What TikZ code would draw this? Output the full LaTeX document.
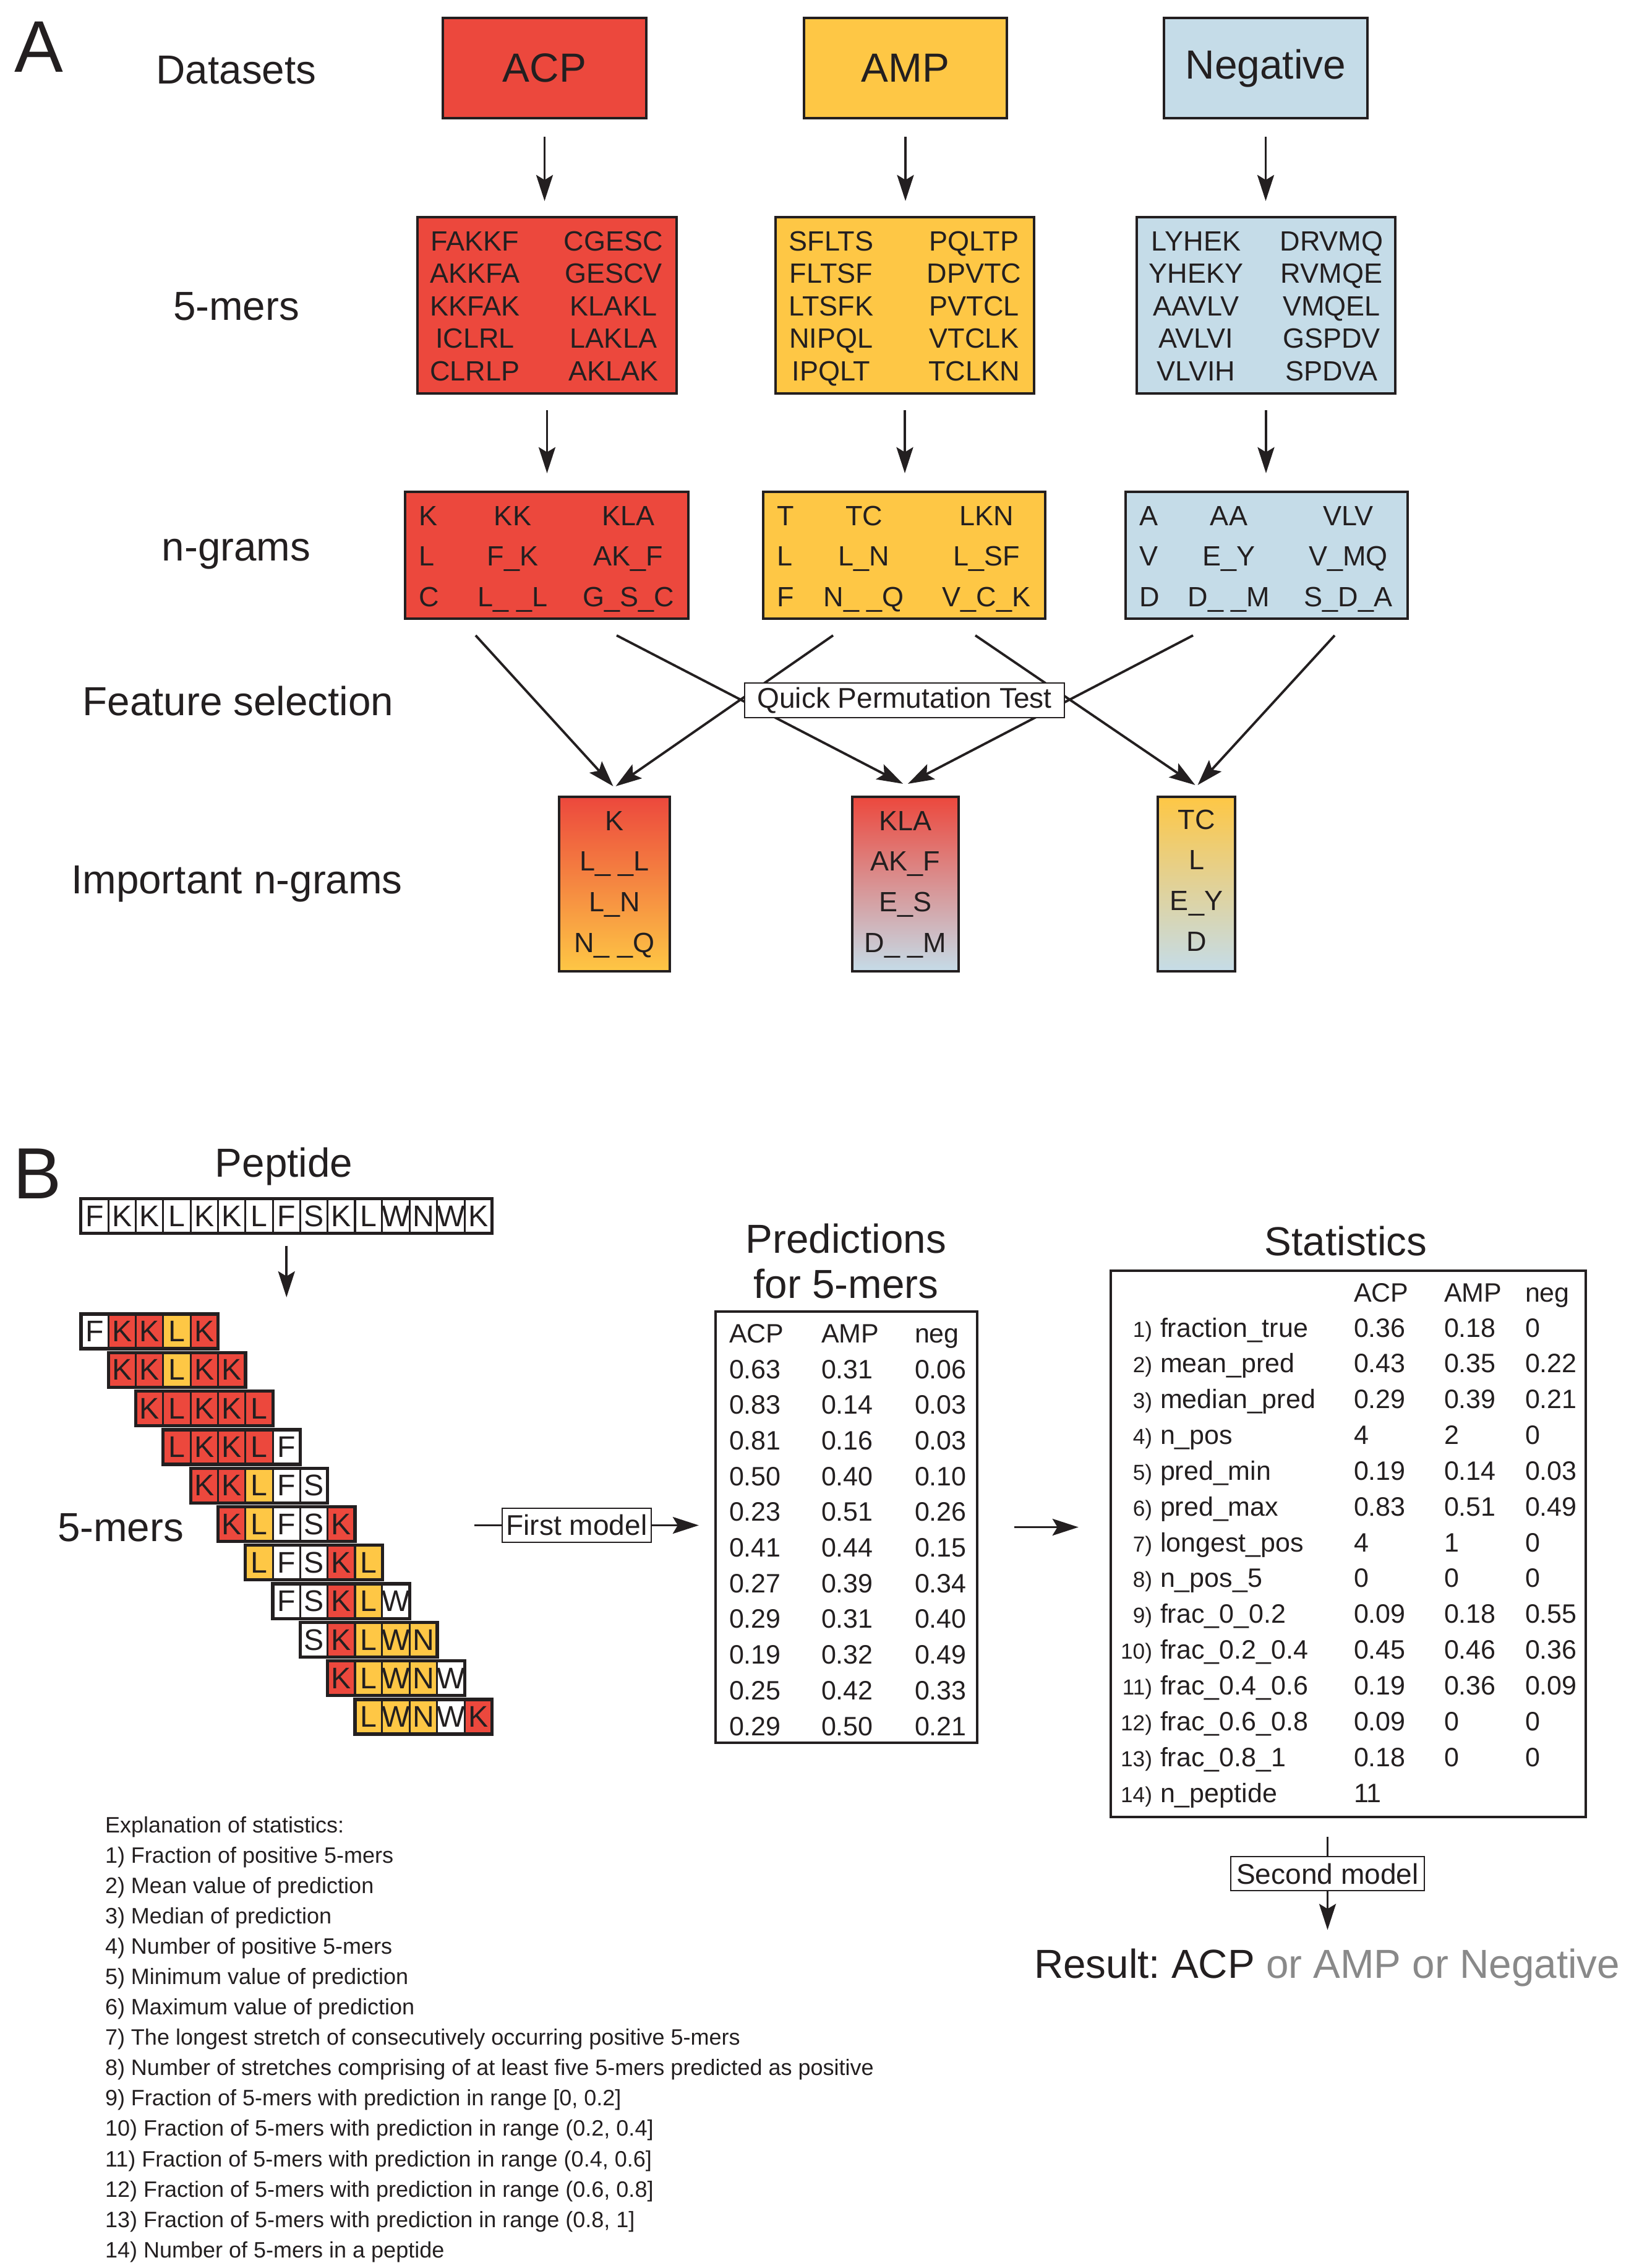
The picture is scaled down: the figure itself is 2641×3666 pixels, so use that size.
\documentclass[tikz,border=0pt]{standalone}
\usepackage{fontspec}
\setmainfont{Liberation Sans}
\usetikzlibrary{arrows.meta,calc}
\definecolor{acp}{RGB}{236,72,61}
\definecolor{amp}{RGB}{254,199,69}
\definecolor{neg}{RGB}{197,220,232}
\definecolor{txt}{RGB}{35,31,32}
\definecolor{gry}{RGB}{137,137,137}
\colorlet{cw}{white}
\colorlet{cr}{acp}
\colorlet{cy}{amp}
\newcommand{\fz}[1]{\fontsize{#1pt}{#1pt}\selectfont}
\frenchspacing
\begin{document}
\begin{tikzpicture}[x=0.01cm,y=-0.01cm,
  every node/.style={text=txt, inner sep=0pt, outer sep=0pt},
  lbl/.style={anchor=base, font=\fz{18.64}},
  dbox/.style={draw=txt, line width=1.2pt, minimum height=1.62cm, font=\fz{18.7}},
  fbox/.style={draw=txt, line width=1.2pt},
  kt/.style={anchor=base, font=\fz{12.8}},
  ktw/.style={anchor=base west, font=\fz{12.8}},
  mbox/.style={draw=txt, line width=0.6pt, fill=white, font=\fz{13.1}},
  arr/.style={draw=txt, line width=1.1pt, -{Stealth[length=0.42cm,width=0.27cm,inset=0.08cm]}},
  ln/.style={draw=txt, line width=1.0pt},
  cell/.style={draw=txt, line width=0.9pt, minimum width=0.443cm, minimum height=0.56cm, font=\fz{13.7}},
  rowbox/.style={draw=txt, line width=1.5pt, minimum width=2.215cm, minimum height=0.56cm},
  tb/.style={anchor=base west, font=\fz{12.23}},
  tn/.style={anchor=base east, font=\fz{10}},
  ex/.style={anchor=base west, font=\fz{10.24}}
]
\useasboundingbox (0,0) rectangle (2641,3666);

% ---------------- Part A ----------------
\node[anchor=base, font=\fz{33.6}] (labA) at (63,116) {A};
\node[lbl] (l1) at (382,135) {Datasets};
\node[lbl] (l2) at (382,517) {5-mers};
\node[lbl] (l3) at (382,906) {n-grams};
\node[lbl] (l4) at (385,1156) {Feature selection};
\node[lbl] (l5) at (383,1444) {Important n-grams};

\node[dbox, fill=acp, minimum width=3.29cm] (ds1) at (880.5,110) {ACP};
\node[dbox, fill=amp, minimum width=3.28cm] (ds2) at (1464,110) {AMP};
\node[dbox, fill=neg, minimum width=3.29cm] (ds3) at (2046.5,110) {Negative};

\node[fbox, fill=acp, minimum width=4.19cm, minimum height=2.85cm] (km1) at (884.5,493.5) {};
\node[fbox, fill=amp, minimum width=4.18cm, minimum height=2.85cm] (km2) at (1463,493.5) {};
\node[fbox, fill=neg, minimum width=4.18cm, minimum height=2.85cm] (km3) at (2047,493.5) {};

\foreach \ta/\tb [count=\ix from 0] in {FAKKF/CGESC, AKKFA/GESCV, KKFAK/KLAKL, ICLRL/LAKLA, CLRLP/AKLAK}{
  \node[kt] (ka\ix) at (768, 405+52.5*\ix) {\ta};
  \node[kt] (kb\ix) at (992, 405+52.5*\ix) {\tb};
}
\foreach \ta/\tb [count=\ix from 0] in {SFLTS/PQLTP, FLTSF/DPVTC, LTSFK/PVTCL, NIPQL/VTCLK, IPQLT/TCLKN}{
  \node[kt] (kc\ix) at (1344, 405+52.5*\ix) {\ta};
  \node[kt] (kd\ix) at (1575, 405+52.5*\ix) {\tb};
}
\foreach \ta/\tb [count=\ix from 0] in {LYHEK/DRVMQ, YHEKY/RVMQE, AAVLV/VMQEL, AVLVI/GSPDV, VLVIH/SPDVA}{
  \node[kt] (ke\ix) at (1934, 405+52.5*\ix) {\ta};
  \node[kt] (kf\ix) at (2153, 405+52.5*\ix) {\tb};
}

\draw[arr, shorten <=0.3cm, shorten >=0.26cm] (ds1.south) -- (ds1.south |- km1.north);
\draw[arr, shorten <=0.3cm, shorten >=0.26cm] (ds2.south) -- (ds2.south |- km2.north);
\draw[arr, shorten <=0.3cm, shorten >=0.26cm] (ds3.south) -- (ds3.south |- km3.north);

\node[fbox, fill=acp, minimum width=4.58cm, minimum height=2.05cm] (ng1) at (884,897.5) {};
\node[fbox, fill=amp, minimum width=4.56cm, minimum height=2.05cm] (ng2) at (1462,897.5) {};
\node[fbox, fill=neg, minimum width=4.56cm, minimum height=2.05cm] (ng3) at (2048,897.5) {};

\draw[arr, shorten <=0.27cm, shorten >=0.3cm] (km1.south) -- (km1.south |- ng1.north);
\draw[arr, shorten <=0.27cm, shorten >=0.3cm] (km2.south) -- (km2.south |- ng2.north);
\draw[arr, shorten <=0.27cm, shorten >=0.3cm] (km3.south) -- (km3.south |- ng3.north);

\foreach \ta/\tb/\tc [count=\ix from 0] in {K/KK/KLA, L/F\_K/AK\_F, C/L\_ \_L/G\_S\_C}{
  \node[ktw] (na\ix) at (677, 849+65.5*\ix) {\ta};
  \node[kt] (nb\ix) at (829, 849+65.5*\ix) {\tb};
  \node[kt] (nc\ix) at (1016, 849+65.5*\ix) {\tc};
}
\foreach \ta/\tb/\tc [count=\ix from 0] in {T/TC/LKN, L/L\_N/L\_SF, F/N\_ \_Q/V\_C\_K}{
  \node[ktw] (nd\ix) at (1256, 849+65.5*\ix) {\ta};
  \node[kt] (ne\ix) at (1397, 849+65.5*\ix) {\tb};
  \node[kt] (nf\ix) at (1595, 849+65.5*\ix) {\tc};
}
\foreach \ta/\tb/\tc [count=\ix from 0] in {A/AA/VLV, V/E\_Y/V\_MQ, D/D\_ \_M/S\_D\_A}{
  \node[ktw] (nj\ix) at (1842, 849+65.5*\ix) {\ta};
  \node[kt] (nk\ix) at (1987, 849+65.5*\ix) {\tb};
  \node[kt] (nl\ix) at (2180, 849+65.5*\ix) {\tc};
}

\node[fbox, top color=acp, bottom color=amp, minimum width=1.79cm, minimum height=2.82cm] (im1) at (993.5,1429) {};
\node[fbox, top color=acp, bottom color=neg, minimum width=1.72cm, minimum height=2.82cm] (im2) at (1464,1429) {};
\node[fbox, top color=amp, bottom color=neg, minimum width=1.25cm, minimum height=2.82cm] (im3) at (1934.5,1429) {};

\foreach \ta [count=\ix from 0] in {K, L\_ \_L, L\_N, N\_ \_Q}
  \node[kt] (ia\ix) at (993.5, 1342+65.7*\ix) {\ta};
\foreach \ta [count=\ix from 0] in {KLA, AK\_F, E\_S, D\_ \_M}
  \node[kt] (ib\ix) at (1464, 1342+65.7*\ix) {\ta};
\foreach \ta [count=\ix from 0] in {TC, L, E\_Y, D}
  \node[kt] (ic\ix) at (1934.5, 1340+65.7*\ix) {\ta};

\draw[arr] ($(ng1.south)+(-115,27)$) -- ($(im1.north)+(-2,-17)$);
\draw[arr] ($(ng2.south)+(-115,27)$) -- ($(im1.north)+(2,-17)$);
\draw[arr] ($(ng1.south)+(113,27)$) -- ($(im2.north)+(-4,-21)$);
\draw[arr] ($(ng3.south)+(-119,27)$) -- ($(im2.north)+(4,-21)$);
\draw[arr] ($(ng2.south)+(115,27)$) -- ($(im3.north)+(-2,-19)$);
\draw[arr] ($(ng3.south)+(110,27)$) -- ($(im3.north)+(2,-19)$);

\node[mbox, minimum width=5.17cm, minimum height=0.56cm] (qpt) at (1462.5,1132) {Quick Permutation Test};

% ---------------- Part B ----------------
\node[anchor=base, font=\fz{33.3}] (labB) at (61,1937) {B};
\node[lbl] (tpep) at (459,1902) {Peptide};

\foreach \ltr [count=\ix from 0] in {F,K,K,L,K,K,L,F,S,K,L,W,N,W,K}
  \node[cell, fill=white] (p\ix) at (153.15+44.3*\ix, 1965.5) {\ltr};
\node[draw=txt, line width=1.5pt, minimum width=6.645cm, minimum height=0.56cm] (pep) at (463.25,1965.5) {};

\foreach \seq [count=\rw from 0] in {
  {F/cw,K/cr,K/cr,L/cy,K/cr},
  {K/cr,K/cr,L/cy,K/cr,K/cr},
  {K/cr,L/cr,K/cr,K/cr,L/cr},
  {L/cr,K/cr,K/cr,L/cr,F/cw},
  {K/cr,K/cr,L/cy,F/cw,S/cw},
  {K/cr,L/cy,F/cw,S/cw,K/cr},
  {L/cy,F/cw,S/cw,K/cr,L/cy},
  {F/cw,S/cw,K/cr,L/cy,W/cw},
  {S/cw,K/cr,L/cy,W/cy,N/cy},
  {K/cr,L/cy,W/cy,N/cy,W/cw},
  {L/cy,W/cy,N/cy,W/cw,K/cr}}{
  \foreach \ltr/\clr [count=\ix from 0] in \seq {
    \node[cell, fill=\clr] (m\rw-\ix) at (153.15+44.3*\rw+44.3*\ix, 2152+62.3*\rw) {\ltr};
  }
  \node[rowbox] (r\rw) at (241.75+44.3*\rw, 2152+62.3*\rw) {};
}

\draw[arr, shorten <=0.2cm, shorten >=0.27cm] (pep.south) -- (pep.south |- r0.north);

\node[lbl] (l5b) at (195,2491) {5-mers};

% Predictions
\node[lbl] (tpr1) at (1368,2025) {Predictions};
\node[lbl] (tpr2) at (1368,2098) {for 5-mers};
\node[fbox, minimum width=4.23cm, minimum height=6.97cm] (pred) at (1368.5,2468.5) {};
\node[tb] (ph1) at (1179,2170) {ACP};
\node[tb] (ph2) at (1328,2170) {AMP};
\node[tb] (ph3) at (1479,2170) {neg};
\foreach \va/\vb/\vc [count=\ix from 0] in {0.63/0.31/0.06, 0.83/0.14/0.03, 0.81/0.16/0.03, 0.50/0.40/0.10, 0.23/0.51/0.26, 0.41/0.44/0.15, 0.27/0.39/0.34, 0.29/0.31/0.40, 0.19/0.32/0.49, 0.25/0.42/0.33, 0.29/0.50/0.21}{
  \node[tb] (pa\ix) at (1179, 2228+57.7*\ix) {\va};
  \node[tb] (pb\ix) at (1328, 2228+57.7*\ix) {\vb};
  \node[tb] (pc\ix) at (1479, 2228+57.7*\ix) {\vc};
}

% First model
\node[mbox, minimum width=2.41cm, minimum height=0.55cm] (fm) at (932.5,2465.5) {First model};
\coordinate (fmin) at (767,2465.5);
\draw[ln] (fmin) -- (fm.west);
\draw[arr, line width=1.0pt, shorten >=0.27cm] (fm.east) -- (fm.east -| pred.west);

% Statistics
\node[lbl] (tst) at (2176,2029) {Statistics};
\node[fbox, minimum width=7.68cm, minimum height=8.83cm] (stats) at (2180,2495.5) {};
\node[tb] (sh1) at (2189,2104) {ACP};
\node[tb] (sh2) at (2335,2104) {AMP};
\node[tb] (sh3) at (2466,2104) {neg};
\foreach \nn/\nm/\va/\vb/\vc [count=\ix from 0] in {
  1)/fraction\_true/0.36/0.18/0,
  2)/mean\_pred/0.43/0.35/0.22,
  3)/median\_pred/0.29/0.39/0.21,
  4)/n\_pos/4/2/0,
  5)/pred\_min/0.19/0.14/0.03,
  6)/pred\_max/0.83/0.51/0.49,
  7)/longest\_pos/4/1/0,
  8)/n\_pos\_5/0/0/0,
  9)/frac\_0\_0.2/0.09/0.18/0.55,
  10)/frac\_0.2\_0.4/0.45/0.46/0.36,
  11)/frac\_0.4\_0.6/0.19/0.36/0.09,
  12)/frac\_0.6\_0.8/0.09/0/0,
  13)/frac\_0.8\_1/0.18/0/0}{
  \node[tn] (sn\ix) at (1863, 2161+57.85*\ix) {\nn};
  \node[tb] (sm\ix) at (1876, 2161+57.85*\ix) {\nm};
  \node[tb] (sa\ix) at (2189, 2161+57.85*\ix) {\va};
  \node[tb] (sb\ix) at (2335, 2161+57.85*\ix) {\vb};
  \node[tb] (sc\ix) at (2466, 2161+57.85*\ix) {\vc};
}
\node[tn] (sn13) at (1863, 2913) {14)};
\node[tb] (sm13) at (1876, 2913) {n\_peptide};
\node[tb] (sa13) at (2189, 2913) {11};

\draw[arr, shorten <=0.6cm, shorten >=0.52cm] (pred.east) -- (pred.east -| stats.west);

% Second model and result
\node[mbox, minimum width=3.13cm, minimum height=0.55cm] (smod) at (2146.5,3028.5) {Second model};
\draw[ln, shorten <=0.32cm] (smod.north |- stats.south) -- (smod.north);
\node[anchor=base west, font=\fz{18.64}] (res) at (1672,3197) {Result: ACP \textcolor{gry}{or AMP or Negative}};
\draw[arr, line width=1.0pt, shorten >=0.3cm] (smod.south) -- (smod.south |- res.north);

% Explanation
\node[ex] (e0) at (170,2962) {Explanation of statistics:};
\foreach \tt [count=\ix from 1] in {
  {1) Fraction of positive 5-mers},
  {2) Mean value of prediction},
  {3) Median of prediction},
  {4) Number of positive 5-mers},
  {5) Minimum value of prediction},
  {6) Maximum value of prediction},
  {7) The longest stretch of consecutively occurring positive 5-mers},
  {8) Number of stretches comprising of at least five 5-mers predicted as positive},
  {9) Fraction of 5-mers with prediction in range [0, 0.2]},
  {10) Fraction of 5-mers with prediction in range (0.2, 0.4]},
  {11) Fraction of 5-mers with prediction in range (0.4, 0.6]},
  {12) Fraction of 5-mers with prediction in range (0.6, 0.8]},
  {13) Fraction of 5-mers with prediction in range (0.8, 1]},
  {14) Number of 5-mers in a peptide}}
  \node[ex] (e\ix) at (170, 3011+49.1*\ix-49.1) {\tt};
\end{tikzpicture}
\end{document}
